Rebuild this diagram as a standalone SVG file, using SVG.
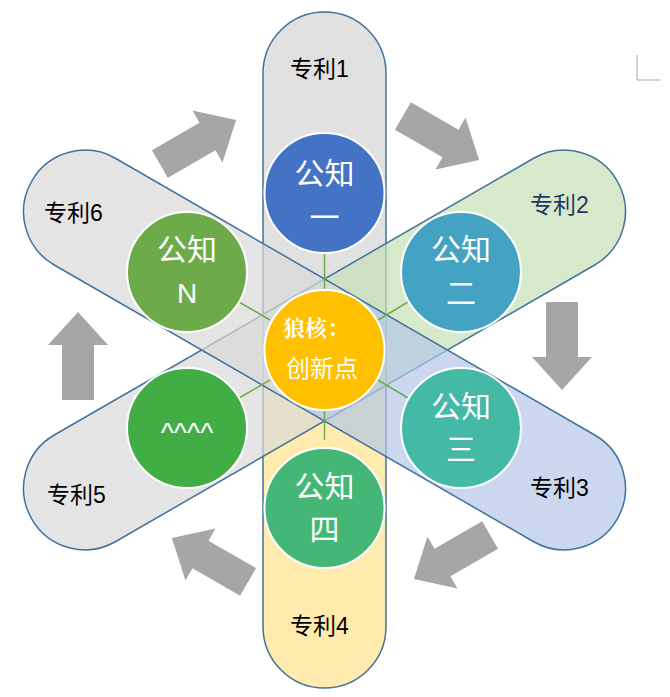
<svg xmlns="http://www.w3.org/2000/svg" width="670" height="697" viewBox="0 0 670 697">
<style>
.pill{stroke:#41719c;stroke-width:1.5}
.ar{fill:#a6a6a6}
.c{stroke:#fff;stroke-width:2}
.lb{font-family:"Liberation Sans","Noto Sans CJK SC",sans-serif;font-size:23px;fill:#000}
.ct{font-family:"Noto Sans CJK SC",sans-serif;font-size:30px;fill:#fff;text-anchor:middle}
.cn{stroke:#70ad47;stroke-width:1.5}
</style>
<defs>
<linearGradient id="g1" x1="0" y1="0" x2="0" y2="1"><stop offset="0.5" stop-color="#d9d9d9"/><stop offset="0.5" stop-color="#ffe699"/></linearGradient>
<linearGradient id="g2" x1="0" y1="0" x2="0" y2="1" gradientTransform="rotate(0)"><stop offset="0.5" stop-color="#c5e0b4"/><stop offset="0.5" stop-color="#d9d9d9"/></linearGradient>
<linearGradient id="g3" x1="0" y1="0" x2="0" y2="1"><stop offset="0.5" stop-color="#d9d9d9"/><stop offset="0.5" stop-color="#b4c7e7"/></linearGradient>
<path id="arrow" d="M-44,-16 H11 V-30 L44,0 L11,30 V16 H-44 Z"/>
</defs>
<g id="pills">
<rect id="p1" class="pill" x="263" y="12" width="123" height="676" rx="61.5" fill="url(#g1)" fill-opacity="0.8"/>
<rect id="p2" class="pill" x="263" y="12" width="123" height="676" rx="61.5" fill="url(#g2)" fill-opacity="0.7" transform="rotate(60 324.5 350)"/>
<rect id="p3" class="pill" x="263" y="12" width="123" height="676" rx="61.5" fill="url(#g3)" fill-opacity="0.7" transform="rotate(-60 324.5 350)"/>
</g>
<g id="arrows">
<use href="#arrow" class="ar" transform="translate(198,142) rotate(-30)"/>
<use href="#arrow" class="ar" transform="translate(441,138) rotate(30)"/>
<use href="#arrow" class="ar" transform="translate(562,346) rotate(90)"/>
<use href="#arrow" class="ar" transform="translate(452,557) rotate(150)"/>
<use href="#arrow" class="ar" transform="translate(210,560) rotate(210)"/>
<use href="#arrow" class="ar" transform="translate(78,356) rotate(270)"/>
</g>
<g id="connectors">
<line class="cn" x1="324.5" y1="253" x2="324.5" y2="290"/>
<line class="cn" x1="324.5" y1="410" x2="324.5" y2="440"/>
<line class="cn" x1="239" y1="302" x2="270" y2="320"/>
<line class="cn" x1="408" y1="302" x2="378" y2="320"/>
<line class="cn" x1="239" y1="398" x2="270" y2="380"/>
<line class="cn" x1="408" y1="398" x2="378" y2="380"/>
</g>
<g id="labels">
<text class="lb" x="290" y="77">专利1</text>
<text class="lb" x="530" y="213" fill="#1f3864" style="fill:#1f3864">专利2</text>
<text class="lb" x="530" y="496">专利3</text>
<text class="lb" x="290" y="634">专利4</text>
<text class="lb" x="47" y="503">专利5</text>
<text class="lb" x="44" y="221">专利6</text>
</g>
<g id="n1"><circle class="c" cx="324.5" cy="193" r="60" fill="#4472c4"/><text class="ct" x="324.5" y="184">公知</text><text class="ct" x="324.5" y="228">一</text></g>
<g id="n2"><circle class="c" cx="461" cy="272" r="60" fill="#44a3c2"/><text class="ct" x="461" y="260">公知</text><text class="ct" x="461" y="304">二</text></g>
<g id="n3"><circle class="c" cx="461" cy="428" r="60" fill="#44b9a6"/><text class="ct" x="461" y="417">公知</text><text class="ct" x="461" y="460">三</text></g>
<g id="n4"><circle class="c" cx="324.5" cy="508" r="60" fill="#44b777"/><text class="ct" x="324.5" y="497">公知</text><text class="ct" x="324.5" y="540">四</text></g>
<g id="n5"><circle class="c" cx="187" cy="428" r="60" fill="#43ad45"/><text class="ct" x="187" y="442" style="font-family:'Liberation Sans',sans-serif;font-size:28px">^^^^</text></g>
<g id="nN"><circle class="c" cx="187" cy="272" r="60" fill="#6dab4a"/><text class="ct" x="187" y="260">公知</text><text class="ct" x="187" y="303" style="font-family:'Liberation Sans',sans-serif;font-size:28px">N</text></g>
<g id="center"><circle class="c" cx="324.5" cy="350" r="60" fill="#ffc000"/><text class="ct" x="316" y="336" style="font-size:22px;font-weight:bold;font-family:'Noto Serif CJK SC','Noto Sans CJK SC',serif">狼核：</text><text class="ct" x="322" y="377" style="font-size:24px">创新点</text></g>
<g id="mark" stroke="#a6a6a6" stroke-width="1" fill="none"><path d="M637,55 V80 H660"/></g>
</svg>
